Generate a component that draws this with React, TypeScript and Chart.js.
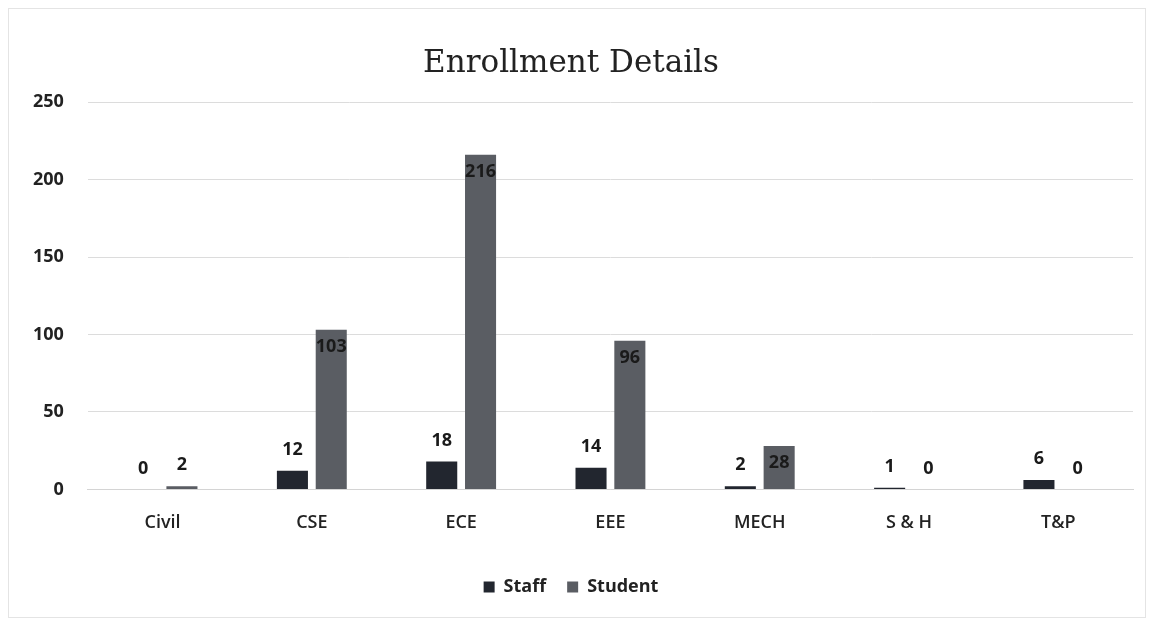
import React, { useEffect, useRef } from "react";
import { Chart, registerables } from "chart.js";

Chart.register(...registerables);

const categories = ["Civil", "CSE", "ECE", "EEE", "MECH", "S & H", "T&P"];
const staffValues = [0, 12, 18, 14, 2, 1, 6];
const studentValues = [2, 103, 216, 96, 28, 0, 0];
const yTicks = [0, 50, 100, 150, 200, 250];

const labelFont = "'Open Sans', 'DejaVu Sans', sans-serif";

const valueLabels = {
  id: "valueLabels",
  afterDatasetsDraw(chart: any) {
    const ctx = chart.ctx;
    ctx.save();
    ctx.font = `bold 18px ${labelFont}`;
    ctx.fillStyle = "#1a1a1a";
    ctx.textAlign = "center";
    chart.data.datasets.forEach((ds: any, di: number) => {
      const meta = chart.getDatasetMeta(di);
      meta.data.forEach((bar: any, i: number) => {
        const v = ds.data[i];
        const h = bar.base - bar.y;
        if (h > 30) {
          ctx.textBaseline = "top";
          ctx.fillText(String(v), bar.x, bar.y + 8);
        } else {
          ctx.textBaseline = "bottom";
          ctx.fillText(String(v), bar.x, bar.y - 12);
        }
      });
    });
    ctx.restore();
  },
};

export default function App() {
  const ref = useRef<HTMLCanvasElement>(null);
  useEffect(() => {
    if (!ref.current) return;
    const chart = new Chart(ref.current, {
      type: "bar",
      data: {
        labels: categories,
        datasets: [
          {
            label: "Staff",
            data: staffValues,
            backgroundColor: "#22262f",
            categoryPercentage: 0.52,
            barPercentage: 0.8,
          },
          {
            label: "Student",
            data: studentValues,
            backgroundColor: "#5a5d63",
            categoryPercentage: 0.52,
            barPercentage: 0.8,
          },
        ],
      },
      options: {
        animation: false,
        responsive: true,
        maintainAspectRatio: false,
        layout: { padding: { top: 28, left: 0, right: 12, bottom: 11 } },
        plugins: {
          title: {
            display: true,
            text: "Enrollment Details",
            color: "#222",
            font: { family: "'DejaVu Serif', 'Liberation Serif', serif", size: 31, weight: "normal" },
            padding: { top: 8, bottom: 20 },
          },
          legend: {
            position: "bottom",
            labels: {
              color: "#222",
              font: { family: labelFont, size: 18, weight: "bold" },
              boxWidth: 11,
              boxHeight: 11,
              padding: 21,
            },
          },
          tooltip: { enabled: false },
        },
        scales: {
          x: {
            grid: { display: false, drawTicks: false },
            border: { display: true, color: "#d4d4d4" },
            ticks: {
              color: "#222",
              padding: 23,
              font: { family: labelFont, size: 18, weight: 600 },
            },
          },
          y: {
            min: 0,
            max: 250,
            afterBuildTicks: (axis: any) => {
              axis.ticks = yTicks.map((v) => ({ value: v }));
            },
            grid: { color: "#dcdcdc", drawTicks: false },
            border: { display: false },
            ticks: {
              color: "#222",
              padding: 24,
              font: { family: labelFont, size: 18, weight: "bold" },
            },
          },
        },
      },
      plugins: [valueLabels],
    });
    return () => chart.destroy();
  }, []);
  return (
    <div
      style={{
        width: 1136,
        height: 608,
        position: "relative",
        border: "1px solid #e4e4e4",
        background: "#fff",
      }}
    >
      <canvas ref={ref} />
    </div>
  );
}
